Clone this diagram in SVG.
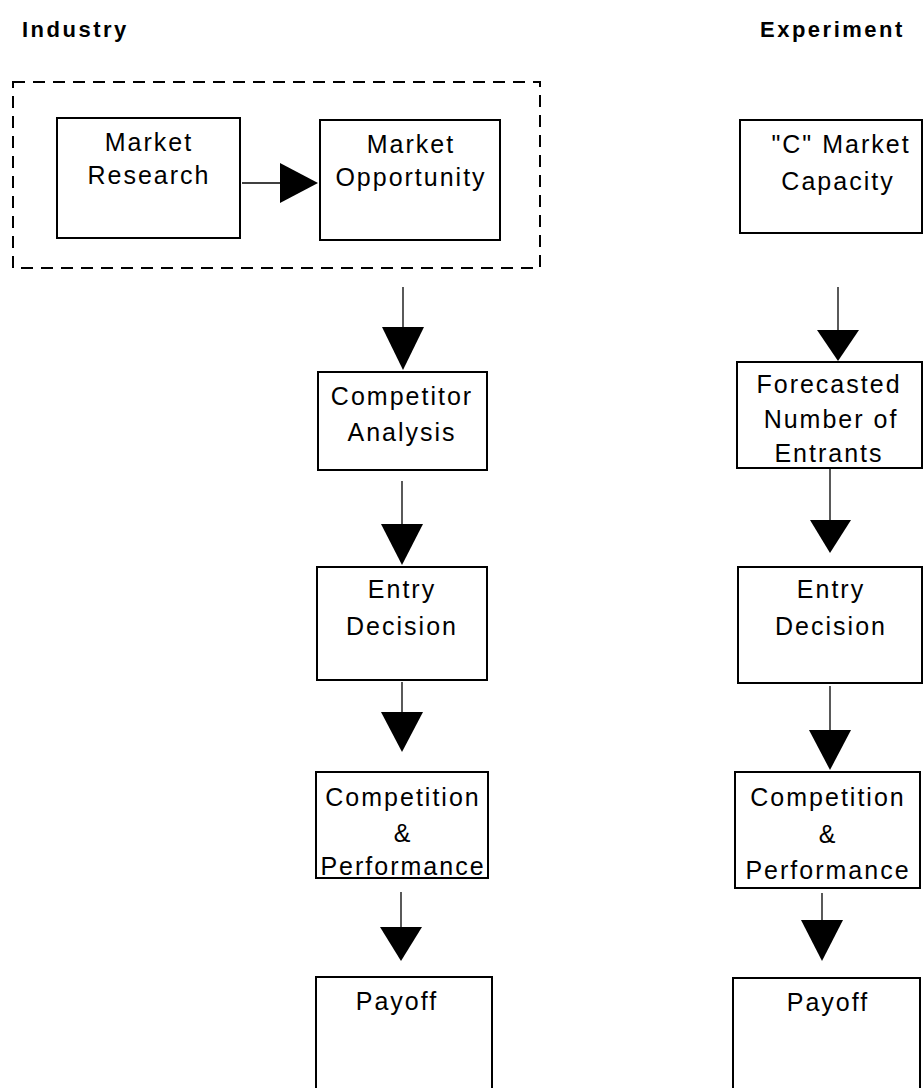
<svg xmlns="http://www.w3.org/2000/svg" width="924" height="1088" viewBox="0 0 924 1088">
<style>
.box{fill:#fff;stroke:#000;stroke-width:2}
.t{font-family:"Liberation Sans",Arial,sans-serif;font-size:25px;letter-spacing:2px;text-anchor:middle;fill:#000}
.h{font-family:"Liberation Sans",Arial,sans-serif;font-size:22px;font-weight:bold;letter-spacing:2.5px;fill:#000}
.ln{stroke:#000;stroke-width:1.3;fill:none}
.ah{fill:#000;stroke:none}
</style>
<rect width="924" height="1088" fill="#fff"/>
<text class="h" x="22" y="37">Industry</text>
<text class="h" x="760" y="37">Experiment</text>
<g id="industry-group">
<rect x="13" y="82" width="527" height="186" fill="none" stroke="#000" stroke-width="2" stroke-dasharray="12,8"/>
</g>
<g id="market-research">
<rect class="box" x="57" y="118" width="183" height="120"/>
<text class="t" x="149" y="151">Market</text>
<text class="t" x="149" y="184">Research</text>
</g>
<g id="market-opportunity">
<rect class="box" x="320" y="120" width="180" height="120"/>
<text class="t" x="411" y="153">Market</text>
<text class="t" x="411" y="186">Opportunity</text>
</g>
<g id="competitor-analysis">
<rect class="box" x="318" y="372" width="169" height="98"/>
<text class="t" x="402" y="405">Competitor</text>
<text class="t" x="402" y="441">Analysis</text>
</g>
<g id="entry-decision-industry">
<rect class="box" x="317" y="567" width="170" height="113"/>
<text class="t" x="402" y="598">Entry</text>
<text class="t" x="402" y="635">Decision</text>
</g>
<g id="competition-industry">
<rect class="box" x="316" y="772" width="172" height="106"/>
<text class="t" x="403" y="806">Competition</text>
<text class="t" x="403" y="842">&amp;</text>
<text class="t" x="403" y="875">Performance</text>
</g>
<g id="payoff-industry">
<rect class="box" x="316" y="977" width="176" height="120"/>
<text class="t" x="397" y="1010">Payoff</text>
</g>
<g id="market-capacity">
<rect class="box" x="740" y="120" width="182" height="113"/>
<text class="t" x="841" y="153">"C" Market</text>
<text class="t" x="838" y="190">Capacity</text>
</g>
<g id="forecasted-entrants">
<rect class="box" x="737" y="362" width="185" height="106"/>
<text class="t" x="829" y="393">Forecasted</text>
<text class="t" x="831" y="428">Number of</text>
<text class="t" x="829" y="462">Entrants</text>
</g>
<g id="entry-decision-experiment">
<rect class="box" x="738" y="567" width="184" height="116"/>
<text class="t" x="831" y="598">Entry</text>
<text class="t" x="831" y="635">Decision</text>
</g>
<g id="competition-experiment">
<rect class="box" x="735" y="772" width="185" height="116"/>
<text class="t" x="828" y="806">Competition</text>
<text class="t" x="828" y="843">&amp;</text>
<text class="t" x="828" y="879">Performance</text>
</g>
<g id="payoff-experiment">
<rect class="box" x="733" y="978" width="187" height="120"/>
<text class="t" x="828" y="1011">Payoff</text>
</g>
<g id="connectors">
<line class="ln" x1="242" y1="183" x2="282" y2="183"/>
<polygon class="ah" points="280,163 318,183 280,203"/>
<line class="ln" x1="403" y1="287" x2="403" y2="328"/>
<polygon class="ah" points="382,327 424,327 403,370"/>
<line class="ln" x1="402" y1="481" x2="402" y2="526"/>
<polygon class="ah" points="381,524 423,524 402,565"/>
<line class="ln" x1="402" y1="682" x2="402" y2="714"/>
<polygon class="ah" points="381,712 423,712 402,752"/>
<line class="ln" x1="401" y1="892" x2="401" y2="929"/>
<polygon class="ah" points="380,927 422,927 401,961"/>
<line class="ln" x1="838" y1="287" x2="838" y2="332"/>
<polygon class="ah" points="817,330 859,330 838,361"/>
<line class="ln" x1="830" y1="468" x2="830" y2="522"/>
<polygon class="ah" points="810,520 851,520 830,553"/>
<line class="ln" x1="830" y1="686" x2="830" y2="732"/>
<polygon class="ah" points="809,730 851,730 830,770"/>
<line class="ln" x1="822" y1="893" x2="822" y2="922"/>
<polygon class="ah" points="801,920 843,920 822,961"/>
</g>
</svg>
